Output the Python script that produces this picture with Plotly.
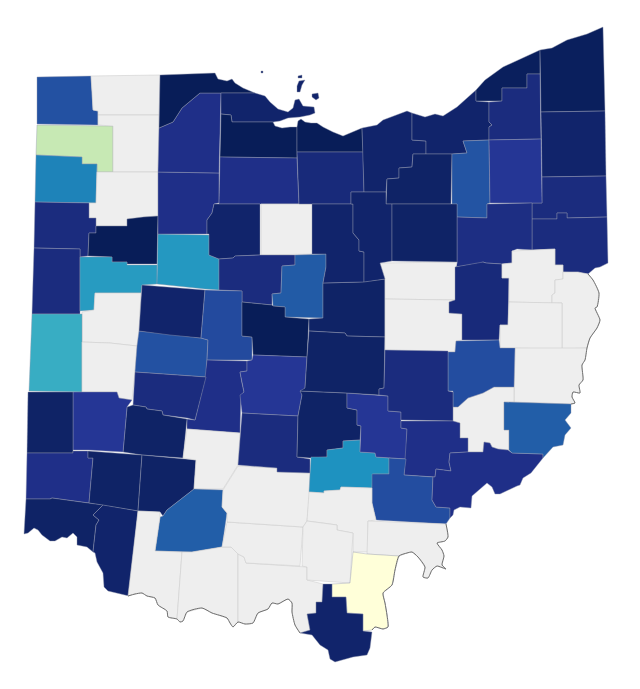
import plotly.graph_objects as go
from plotly.colors import sample_colorscale

shapes = {
    "Williams": [(37,77),(91,76),(92,92),(93,110),(98,111),(98,125),(37,124)],
    "Fulton": [(91,76),(160,75),(159,115),(98,115),(98,111),(93,110),(92,92)],
    "Defiance": [(37,125),(113,126),(113,172),(97,172),(97,164),(82,164),(82,157),(36,155)],
    "Henry": [(98,115),(159,115),(158,172),(113,172),(113,126),(98,125)],
    "Paulding": [(36,155),(82,157),(82,164),(97,164),(96,203),(35,202)],
    "Putnam": [(97,172),(158,172),(158,216),(143,217),(143,218),(127,219),(127,226),(96,226),(96,218),(89,218),(89,203),(96,203)],
    "Van Wert": [(35,202),(89,203),(89,218),(96,218),(96,233),(89,233),(88,256),(80,257),(80,249),(34,248)],
    "Allen": [(89,233),(96,233),(96,226),(127,226),(127,219),(143,217),(158,216),(157,264),(127,264),(127,262),(112,262),(112,257),(88,256)],
    "Mercer": [(34,248),(80,249),(80,314),(32,314)],
    "Auglaize": [(80,257),(112,257),(112,262),(127,262),(127,265),(157,265),(157,284),(142,285),(141,293),(95,293),(94,310),(80,311)],
    "Shelby": [(95,293),(141,293),(139,331),(137,346),(110,343),(82,342),(82,312),(94,310)],
    "Darke": [(32,314),(82,314),(82,392),(29,391)],
    "Miami": [(82,342),(110,343),(137,346),(135,372),(132,400),(119,398),(117,392),(82,392)],
    "Champaign": [(139,331),(170,334),(201,338),(208,340),(206,377),(135,372),(137,346)],
    "Logan": [(142,285),(205,290),(201,338),(170,335),(139,331)],
    "Hardin": [(158,234),(209,235),(209,255),(219,259),(219,290),(205,289),(157,284)],
    "Hancock": [(158,172),(219,173),(219,203),(214,204),(212,213),(207,220),(207,234),(158,234)],
    "Wood": [(159,128),(173,122),(182,108),(200,93),(221,93),(220,157),(219,173),(158,172)],
    "Lucas": [(160,75),(215,73),(218,79),(227,81),(232,79),(235,83),(243,88),(255,93),(221,93),(200,93),(182,108),(173,122),(159,128)],
    "Ottawa": [(221,93),(255,93),(265,96),(270,102),(278,109),(288,112),(293,108),(295,100),(299,99),(303,106),(314,107),(315,113),(310,115),(300,117),(288,118),(280,121),(273,122),(232,122),(231,115),(221,114)],
    "Sandusky": [(221,114),(231,115),(232,122),(273,122),(275,126),(282,128),(290,127),(297,127),(297,158),(220,157)],
    "Seneca": [(220,157),(297,158),(299,204),(260,204),(219,204)],
    "Wyandot": [(214,204),(260,204),(260,255),(235,256),(233,258),(219,259),(209,255),(209,234),(207,234),(207,220),(212,213)],
    "Crawford": [(261,204),(313,204),(313,254),(261,255)],
    "Marion": [(219,259),(233,258),(235,256),(260,255),(295,255),(295,265),(282,266),(281,293),(272,294),(272,305),(242,302),(242,291),(219,290)],
    "Morrow": [(295,255),(326,254),(326,267),(323,283),(323,318),(285,317),(285,307),(273,306),(272,294),(281,293),(282,266),(295,265)],
    "Union": [(205,290),(242,291),(242,336),(252,337),(252,360),(207,360),(208,340),(201,338)],
    "Delaware": [(242,302),(272,305),(273,306),(285,307),(285,317),(309,319),(307,357),(253,355),(252,337),(242,336)],
    "Madison": [(207,360),(247,361),(247,371),(240,372),(242,383),(244,392),(241,395),(240,433),(187,429),(187,419),(195,420),(205,378)],
    "Franklin": [(253,355),(307,357),(305,388),(301,392),(302,395),(298,416),(242,413),(240,395),(244,392),(242,383),(240,372),(247,371),(247,361),(252,360)],
    "Clark": [(135,372),(206,377),(195,420),(187,418),(163,415),(162,411),(147,409),(146,407),(133,405)],
    "Greene": [(127,407),(133,405),(146,407),(147,409),(162,411),(163,415),(187,419),(183,458),(142,455),(123,452)],
    "Montgomery": [(73,392),(117,392),(119,398),(132,400),(127,407),(123,452),(88,450),(73,450)],
    "Preble": [(28,392),(73,392),(73,453),(27,453)],
    "Butler": [(27,453),(73,453),(73,451),(88,451),(88,458),(93,458),(89,503),(52,498),(50,499),(26,499)],
    "Warren": [(88,451),(142,455),(138,511),(103,505),(89,503),(93,458),(88,458)],
    "Clinton": [(142,455),(196,460),(194,489),(167,510),(163,516),(160,512),(138,511)],
    "Fayette": [(187,429),(240,433),(238,465),(223,489),(194,489),(196,460),(183,458)],
    "Hamilton": [(26,499),(50,499),(52,498),(89,503),(103,505),(93,515),(99,520),(96,525),(93,552),(87,547),(77,545),(77,537),(73,533),(67,538),(62,537),(55,541),(50,541),(42,535),(38,530),(34,528),(28,533),(24,534)],
    "Clermont": [(103,505),(138,511),(129,596),(108,591),(104,587),(103,573),(97,562),(95,553),(93,552),(96,525),(99,520),(93,515)],
    "Highland": [(160,517),(163,516),(167,510),(194,489),(223,490),(222,507),(227,513),(222,547),(192,552),(155,551)],
    "Brown": [(138,511),(160,512),(160,517),(155,551),(182,552),(177,619),(168,617),(167,611),(158,605),(155,598),(147,596),(142,593),(135,594),(128,596)],
    "Adams": [(182,552),(192,552),(222,547),(231,547),(238,554),(238,622),(233,627),(230,623),(227,618),(212,613),(202,608),(187,612),(183,621),(180,622),(177,619)],
    "Scioto": [(238,554),(244,557),(246,563),(307,567),(307,580),(323,584),(322,602),(316,602),(316,613),(307,614),(310,630),(300,633),(295,625),(292,612),(292,603),(288,599),(278,604),(272,603),(268,609),(258,613),(253,623),(245,624),(238,622)],
    "Pike": [(227,522),(303,527),(300,566),(246,563),(244,557),(238,554),(231,547),(222,547)],
    "Ross": [(238,466),(277,468),(277,472),(310,473),(310,492),(307,521),(303,527),(227,522),(227,513),(222,507),(223,490)],
    "Pickaway": [(242,413),(298,416),(297,457),(310,459),(310,473),(277,472),(277,468),(238,465)],
    "Fairfield": [(300,391),(347,393),(347,408),(357,410),(357,425),(361,426),(360,440),(343,441),(343,448),(327,450),(327,457),(310,458),(297,457),(298,416),(302,395),(301,392)],
    "Hocking": [(343,441),(360,440),(360,452),(375,453),(376,457),(389,458),(389,474),(373,474),(372,488),(341,487),(340,490),(324,491),(324,493),(309,492),(311,457),(327,457),(327,450),(343,448)],
    "Perry": [(347,393),(388,396),(388,411),(401,412),(401,428),(407,429),(406,459),(389,458),(376,457),(375,453),(360,452),(361,426),(357,425),(357,410),(347,408)],
    "Knox": [(323,283),(361,282),(385,279),(385,337),(347,336),(345,333),(309,331),(309,319),(323,318)],
    "Licking": [(309,331),(345,333),(347,336),(385,337),(384,388),(379,389),(379,395),(347,393),(300,391),(305,388),(307,357)],
    "Erie": [(297,127),(298,121),(301,119),(305,122),(311,123),(317,123),(323,127),(333,132),(343,136),(357,130),(362,128),(363,152),(297,152)],
    "Huron": [(297,152),(363,152),(364,192),(351,192),(351,204),(299,204)],
    "Lorain": [(362,128),(377,125),(383,120),(407,111),(412,113),(412,140),(426,141),(426,154),(413,154),(412,167),(399,168),(399,178),(387,179),(386,192),(364,192)],
    "Cuyahoga": [(412,113),(425,117),(435,114),(443,116),(457,107),(470,95),(476,90),(476,101),(489,102),(489,122),(492,125),(489,127),(489,140),(463,141),(467,153),(452,154),(426,154),(426,141),(412,140)],
    "Medina": [(413,154),(452,154),(451,204),(386,204),(387,179),(399,178),(399,168),(412,167)],
    "Lake": [(476,90),(485,80),(503,67),(527,56),(540,50),(540,74),(527,74),(527,88),(502,88),(502,101),(476,101)],
    "Geauga": [(527,74),(540,74),(541,139),(489,140),(489,127),(492,125),(489,122),(489,102),(502,101),(502,88),(527,88)],
    "Ashtabula": [(540,50),(552,48),(567,40),(587,34),(603,27),(605,111),(541,112)],
    "Trumbull": [(541,112),(605,111),(606,176),(542,177)],
    "Mahoning": [(542,177),(606,176),(607,217),(567,218),(567,213),(557,213),(557,219),(532,219),(532,203),(542,203)],
    "Columbiana": [(532,219),(557,219),(557,213),(567,213),(567,218),(607,217),(608,263),(600,267),(595,268),(588,274),(578,273),(563,272),(563,265),(555,265),(555,249),(532,250)],
    "Summit": [(452,154),(467,153),(463,141),(489,140),(490,203),(487,204),(487,218),(457,217),(457,204),(452,204)],
    "Portage": [(489,140),(541,139),(542,203),(490,203)],
    "Stark": [(487,204),(532,203),(532,250),(517,249),(512,251),(512,263),(502,264),(486,263),(483,262),(481,263),(456,267),(457,262),(457,217),(487,218)],
    "Wayne": [(380,263),(457,262),(456,267),(456,300),(385,299),(385,279)],
    "Richland": [(312,204),(353,204),(353,233),(359,240),(359,251),(364,252),(364,282),(361,282),(323,283),(326,267),(326,254),(312,254)],
    "Ashland": [(351,192),(386,192),(386,204),(392,204),(392,261),(380,263),(385,279),(364,282),(364,252),(359,251),(359,240),(353,233),(353,204),(351,204)],
    "Wayne North": [(392,204),(457,204),(457,262),(392,261)],
    "Holmes": [(385,299),(455,300),(449,302),(449,313),(462,314),(462,340),(456,341),(455,352),(385,350)],
    "Tuscarawas": [(455,267),(481,263),(483,262),(486,263),(502,264),(502,278),(509,278),(508,325),(500,325),(499,340),(462,340),(462,314),(449,313),(449,302),(455,300)],
    "Carroll": [(512,251),(555,249),(555,265),(563,265),(563,279),(555,280),(555,293),(552,295),(552,303),(509,302),(509,278),(502,278),(502,264),(512,263)],
    "Jefferson": [(563,272),(578,272),(588,274),(593,280),(599,293),(597,307),(595,308),(600,320),(597,328),(590,338),(587,348),(562,349),(562,303),(552,303),(552,295),(555,293),(555,280),(563,279)],
    "Harrison": [(509,302),(562,303),(562,349),(515,348),(500,348),(500,325),(508,325)],
    "Belmont": [(515,348),(587,348),(585,360),(582,365),(583,380),(579,385),(580,393),(573,392),(572,397),(575,403),(571,404),(514,402)],
    "Noble": [(453,407),(458,407),(468,398),(483,393),(494,387),(514,387),(514,402),(504,402),(504,430),(509,430),(509,450),(508,450),(498,449),(492,447),(490,443),(484,442),(483,452),(468,452),(468,438),(460,438),(460,423),(453,421)],
    "Guernsey": [(456,341),(499,340),(500,348),(515,348),(514,387),(494,387),(483,393),(468,398),(458,407),(453,407),(453,391),(448,391),(448,352),(455,352)],
    "Muskingum": [(385,350),(448,351),(448,391),(453,392),(453,421),(401,420),(401,412),(388,411),(388,396),(379,395),(379,389),(384,388)],
    "Morgan": [(401,421),(453,421),(460,423),(460,438),(468,438),(468,452),(450,453),(449,462),(451,471),(436,469),(435,477),(404,475),(407,429),(401,428)],
    "Athens": [(389,458),(406,459),(404,475),(433,477),(432,500),(436,507),(450,508),(450,518),(446,524),(376,520),(372,503),(372,474),(389,474)],
    "Washington": [(450,453),(467,452),(483,452),(484,442),(490,443),(492,447),(498,449),(508,450),(512,453),(543,454),(543,458),(531,473),(523,478),(520,485),(517,486),(500,494),(495,494),(492,487),(487,483),(480,489),(472,496),(471,508),(460,507),(454,510),(453,515),(450,518),(450,508),(436,507),(432,500),(433,477),(435,477),(436,469),(451,471),(449,462)],
    "Monroe": [(504,402),(571,404),(571,413),(565,420),(571,428),(565,435),(563,445),(553,447),(543,458),(543,454),(512,453),(509,450),(509,430),(504,430)],
    "Vinton": [(309,492),(324,493),(324,491),(340,490),(341,487),(372,488),(372,503),(376,520),(368,521),(368,552),(353,552),(353,533),(337,530),(337,525),(323,523),(307,521)],
    "Jackson": [(307,521),(323,523),(337,525),(337,530),(353,533),(350,583),(307,580),(307,567),(302,566),(303,527)],
    "Gallia": [(368,521),(446,524),(448,537),(445,541),(437,543),(442,550),(444,556),(442,565),(446,569),(437,566),(432,570),(428,578),(423,577),(425,567),(418,557),(412,552),(407,553),(399,556),(367,554)],
    "Meigs": [(353,552),(367,554),(399,556),(395,570),(392,585),(383,593),(385,603),(387,615),(388,627),(383,629),(375,627),(372,630),(363,631),(363,614),(347,613),(346,597),(332,597),(332,584),(350,583)],
    "Lawrence": [(323,584),(332,584),(332,597),(346,597),(347,613),(363,614),(363,631),(372,632),(370,648),(367,655),(353,657),(335,662),(330,659),(328,650),(320,645),(312,635),(300,633),(310,630),(307,614),(316,613),(316,602),(322,602)],
}

# Lake Erie islands, same colour as Ottawa
islands = [
    [(298,76),(302,75),(302,78),(298,78)],
    [(299,81),(305,80),(302,85),(300,92),(297,92),(297,86)],
    [(312,94),(318,93),(319,98),(316,100),(312,97)],
    [(261,71),(263,71),(263,73),(261,73)],
]

# Ohio river edge, drawn darker than the county lines
river_x = [128,135,142,147,155,158,167,168,177,180,183,187,202,212,227,230,233,238,245,253,258,268,272,278,288,292,292,295,300]
river_y = [596,594,593,596,598,605,611,617,619,622,621,612,608,613,618,623,627,622,624,623,613,609,603,604,599,603,612,625,633]
east_x = [446,448,445,437,442,444,442,446,437,432,428,423,425,418,412,407,399,395,392,383,385,387,388,383,375,372]
east_y = [524,537,541,543,550,556,565,569,566,570,578,577,567,557,552,553,556,570,585,593,603,615,627,629,627,630]
north_x = [588,593,599,597,595,600,597,590,587,585,582,583,579,580,573,572,575,571]
north_y = [274,280,293,307,308,320,328,338,348,360,365,380,385,393,392,397,403,404]

# Shares read off the colour of each county, None = no data
values = {
    "Williams": 0.79, "Fulton": None, "Defiance": 0.25, "Henry": None, "Paulding": 0.66, "Putnam": None,
    "Van Wert": 0.92, "Allen": 1.0, "Mercer": 0.92, "Auglaize": 0.59, "Shelby": None, "Darke": 0.53,
    "Miami": None, "Champaign": 0.79, "Logan": 0.96, "Hardin": 0.6, "Hancock": 0.9, "Wood": 0.9,
    "Lucas": 1.0, "Ottawa": 0.96, "Sandusky": 1.0, "Seneca": 0.9, "Wyandot": 0.96, "Crawford": None,
    "Marion": 0.92, "Morrow": 0.76, "Union": 0.81, "Delaware": 1.0, "Madison": 0.9, "Franklin": 0.87,
    "Clark": 0.92, "Greene": 0.97, "Montgomery": 0.87, "Preble": 0.97, "Butler": 0.9, "Warren": 0.97,
    "Clinton": 0.97, "Fayette": None, "Hamilton": 0.97, "Clermont": 0.96, "Highland": 0.75, "Brown": None,
    "Adams": None, "Scioto": None, "Pike": None, "Ross": None, "Pickaway": 0.92, "Fairfield": 0.97,
    "Hocking": 0.62, "Perry": 0.87, "Knox": 0.97, "Licking": 0.97, "Erie": 1.0, "Huron": 0.93,
    "Lorain": 0.96, "Cuyahoga": 0.96, "Medina": 0.97, "Lake": 0.99, "Geauga": 0.92, "Ashtabula": 0.99,
    "Trumbull": 0.96, "Mahoning": 0.92, "Columbiana": 0.92, "Summit": 0.78, "Portage": 0.87, "Stark": 0.91,
    "Wayne": None, "Richland": 0.96, "Ashland": 0.96, "Wayne North": 0.97, "Holmes": None, "Tuscarawas": 0.93,
    "Carroll": None, "Jefferson": None, "Harrison": None, "Belmont": None, "Noble": None, "Guernsey": 0.8,
    "Muskingum": 0.92, "Morgan": 0.9, "Athens": 0.8, "Washington": 0.9, "Monroe": 0.75, "Vinton": None,
    "Jackson": None, "Gallia": None, "Meigs": 0.0, "Lawrence": 0.96,
}

MISSING = "#eeeeee"

fig = go.Figure()

for name, pts in shapes.items():
    val = values[name]
    color = MISSING if val is None else sample_colorscale("YlGnBu", [val])[0]
    line_color = "#cfcfcf" if val is None else "rgba(150,155,175,0.7)"
    xs = [p[0] for p in pts] + [pts[0][0]]
    ys = [p[1] for p in pts] + [pts[0][1]]
    if name == "Ottawa":
        for isl in islands:
            xs += [None] + [p[0] for p in isl] + [isl[0][0]]
            ys += [None] + [p[1] for p in isl] + [isl[0][1]]
    fig.add_trace(go.Scatter(
        x=xs, y=ys, mode="lines", fill="toself", fillcolor=color,
        line=dict(color=line_color, width=0.6),
        name=name, hoverinfo="name", showlegend=False,
    ))

# dark edge where no-data counties meet the river
for rx, ry in [(river_x, river_y), (east_x, east_y), (north_x, north_y)]:
    fig.add_trace(go.Scatter(x=rx, y=ry, mode="lines", line=dict(color="#6f6f6f", width=1, shape="spline", smoothing=0.6),
                             hoverinfo="skip", showlegend=False))

# page keeps its 8px body margin, so the plot is 16 smaller and the range starts at 8
fig.update_xaxes(range=[8, 632], visible=False)
fig.update_yaxes(range=[681, 8], visible=False)
fig.update_layout(width=624, height=673, margin=dict(l=0, r=0, t=0, b=0),
                  paper_bgcolor="white", plot_bgcolor="white", showlegend=False)

fig.write_html("out.html")
